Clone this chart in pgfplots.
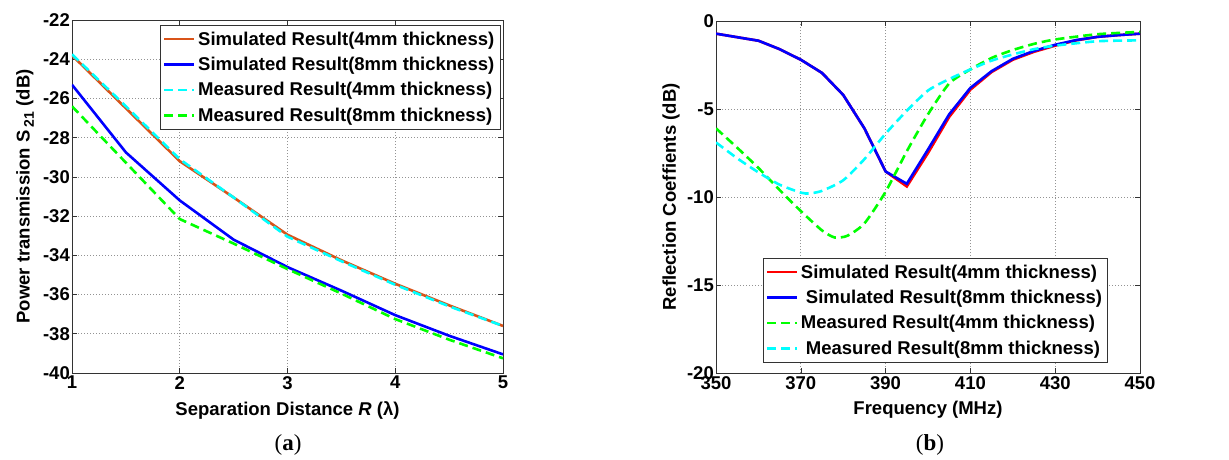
\documentclass[border=0pt]{standalone}
\usepackage{fontspec}
\setmainfont{Liberation Sans}
\newfontfamily\capfont{Liberation Serif}
\usepackage{pgfplots}
\pgfplotsset{compat=1.18}
\definecolor{MOrange}{HTML}{D95319}
\definecolor{MBlue}{HTML}{0000FF}
\definecolor{MCyan}{HTML}{00FFFF}
\definecolor{MGreen}{HTML}{00FF00}
\definecolor{MRed}{HTML}{FF0000}
\newcommand{\tf}{\fontsize{18.5}{21}\selectfont\bfseries}

\pgfplotsset{
  mat/.style={
    scale only axis, anchor=south west,
    grid=major,
    major grid style={dash pattern=on 1pt off 2pt, gray!85, line width=0.7pt},
    tick align=inside, major tick length=5pt,
    tick style={black!80, line width=0.6pt},
    axis line style={black!80, line width=0.8pt},
    tick label style={font=\tf},
    /pgf/number format/assume math mode=true,
    yticklabel style={inner sep=2pt},
    xticklabel style={inner sep=3pt},
    legend cell align=left,
    legend style={font=\tf, draw=black!80,
      nodes={inner sep=2.5pt}, row sep=5.5pt, inner ysep=4pt},
    legend image code/.code={\draw[#1, line width=2.6pt] (0pt,0pt) -- (30pt,0pt);},
  },
  sim/.style={line width=2.6pt},
  meas/.style={line width=2.6pt, dash pattern=on 9pt off 5pt},
}

\begin{document}
\begin{tikzpicture}
\path[use as bounding box] (0pt,0pt) rectangle (1229pt,459pt);

\begin{axis}[mat, name=ax1,
  at={(72pt,86pt)}, width=431pt, height=353pt,
  xmin=1, xmax=5, ymin=-40, ymax=-22,
  xtick={1,2,3,4,5}, ytick={-40,-38,...,-22},
  xlabel={Separation Distance \textit{R} (λ)},
  ylabel={Power transmission S\,\raisebox{-0.45ex}{\fontsize{14}{15}\selectfont 21} (dB)},
  every axis x label/.style={at={(axis description cs:0.5,-0.105)}, anchor=center, font=\tf},
  every axis y label/.style={at={(axis description cs:-0.109,0.5)}, rotate=90, anchor=center, font=\tf},
  legend style={at={(0.993,0.986)}, anchor=north east},
]
\addplot[sim, MOrange] coordinates {
  (1,-23.8)(1.5,-26.5)(2,-29.2)(2.5,-31.05)(3,-32.95)(3.5,-34.25)(4,-35.45)(4.5,-36.55)(5,-37.6)};
\addlegendentry{Simulated Result(4mm thickness)}
\addplot[sim, MBlue] coordinates {
  (1,-25.3)(1.5,-28.75)(2,-31.2)(2.5,-33.2)(3,-34.6)(3.5,-35.8)(4,-37.05)(4.5,-38.1)(5,-39.05)};
\addlegendentry{Simulated Result(8mm thickness)}
\addplot[meas, MCyan] coordinates {
  (1,-23.75)(1.5,-26.4)(2,-29.1)(2.5,-31.05)(3,-33.05)(3.5,-34.3)(4,-35.5)(4.5,-36.6)(5,-37.6)};
\addlegendentry{Measured Result(4mm thickness)}
\addplot[meas, MGreen] coordinates {
  (1,-26.4)(2,-32.15)(2.5,-33.4)(3,-34.7)(3.5,-35.95)(4,-37.25)(4.5,-38.3)(5,-39.25)};
\addlegendentry{Measured Result(8mm thickness)}
\end{axis}

\begin{axis}[mat, name=ax2,
  at={(716pt,86pt)}, width=424pt, height=352pt,
  xmin=350, xmax=450, ymin=-20, ymax=0,
  xtick={350,370,...,450}, ytick={-20,-15,...,0},
  xlabel={Frequency (MHz)},
  ylabel={Reflection Coeffients (dB)},
  every axis x label/.style={at={(axis description cs:0.5,-0.105)}, anchor=center, font=\tf},
  every axis y label/.style={at={(axis description cs:-0.106,0.5)}, rotate=90, anchor=center, font=\tf},
  legend style={at={(0.517,0.03)}, anchor=south},
]
\addplot[sim, MRed] coordinates {
  (350,-0.72)(355,-0.92)(360,-1.12)(365,-1.6)(370,-2.2)(375,-2.95)(380,-4.2)(385,-6.1)
  (390,-8.55)(395,-9.4)(400,-7.5)(405,-5.45)(410,-3.9)(415,-2.9)(420,-2.2)(425,-1.75)
  (430,-1.4)(435,-1.1)(440,-0.9)(445,-0.8)(450,-0.72)};
\addlegendentry{Simulated Result(4mm thickness)}
\addplot[sim, MBlue] coordinates {
  (350,-0.72)(355,-0.92)(360,-1.12)(365,-1.6)(370,-2.2)(375,-2.95)(380,-4.2)(385,-6.1)
  (390,-8.55)(395,-9.25)(400,-7.3)(405,-5.3)(410,-3.8)(415,-2.85)(420,-2.15)(425,-1.7)
  (430,-1.35)(435,-1.08)(440,-0.9)(445,-0.8)(450,-0.72)};
\addlegendentry{\hspace{5pt}Simulated Result(8mm thickness)}
\addplot[meas, MGreen, smooth, tension=0.4] coordinates {
  (350,-6.1)(355,-7.2)(360,-8.35)(365,-9.6)(370,-10.8)(375,-11.9)(378,-12.3)(381,-12.2)
  (385,-11.5)(390,-9.7)(395,-7.4)(400,-5.3)(405,-3.55)(410,-2.75)(415,-2.1)(420,-1.65)
  (425,-1.3)(430,-1.05)(440,-0.75)(450,-0.62)};
\addlegendentry{Measured Result(4mm thickness)}
\addplot[meas, MCyan, smooth, tension=0.4] coordinates {
  (350,-6.9)(355,-7.8)(360,-8.6)(365,-9.3)(370,-9.75)(372,-9.8)(375,-9.65)(380,-9.05)
  (385,-7.85)(390,-6.4)(395,-5.1)(400,-3.95)(405,-3.3)(410,-2.75)(415,-2.25)(420,-1.9)
  (425,-1.6)(430,-1.4)(440,-1.15)(450,-1.1)};
\addlegendentry{\hspace{5pt}Measured Result(8mm thickness)}
\end{axis}

\node[font=\capfont\fontsize{23}{25}\selectfont] at (288pt,14pt) {(\textbf{a})};
\node[font=\capfont\fontsize{23}{25}\selectfont] at (930pt,14pt) {(\textbf{b})};
\end{tikzpicture}
\end{document}
